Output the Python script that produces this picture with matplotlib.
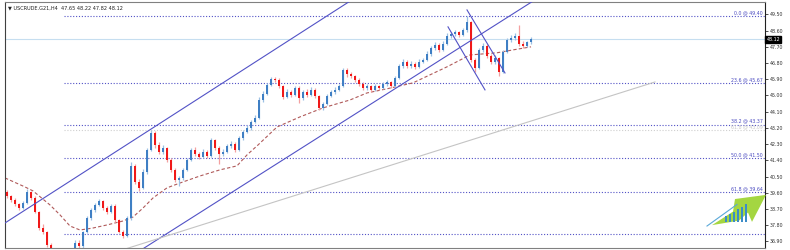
import matplotlib
matplotlib.use("Agg")
import matplotlib.pyplot as plt
import matplotlib.transforms as mtransforms
import numpy as np

# --- candle data (H4 USCRUDE) ---
closes = [39.42, 39.20, 38.98, 38.75, 39.03, 39.64, 39.31, 38.53, 37.64, 37.42,
          36.70, 36.14, 36.42, 35.98, 35.75, 35.98, 36.42, 36.81, 36.64, 37.42,
          38.20, 38.64, 38.92, 39.14, 38.75, 38.53, 38.87, 38.09, 37.42, 37.20,
          38.20, 41.09, 40.20, 39.87, 40.75, 41.98, 42.92, 42.25, 41.87, 42.09,
          41.42, 40.87, 40.31, 40.42, 40.87, 41.42, 41.98, 41.75, 41.59, 41.87,
          41.64, 42.53, 42.09, 41.75, 41.87, 42.20, 42.31, 41.98, 42.64, 42.98,
          43.20, 43.53, 43.75, 44.75, 45.09, 45.59, 45.92, 45.87, 45.53, 44.92,
          45.20, 45.03, 45.42, 44.87, 45.20, 45.03, 45.31, 44.98, 44.31, 44.53,
          44.98, 45.20, 45.31, 45.53, 46.42, 46.20, 46.09, 45.87, 45.64, 45.42,
          45.53, 45.31, 45.53, 45.42, 45.64, 45.75, 45.53, 45.98, 46.64, 46.87,
          46.64, 46.75, 46.59, 46.87, 46.98, 47.31, 47.64, 47.81, 47.53, 47.87,
          48.31, 48.42, 48.53, 48.37, 48.64, 49.09, 46.98, 46.53, 47.53, 47.75,
          47.20, 46.87, 47.09, 46.31, 47.42, 48.09, 48.20, 48.31, 47.87, 47.75,
          47.98, 48.12]
highs = [39.75, 39.50, 39.28, 39.05, 39.15, 39.80, 39.70, 39.40, 38.60, 37.85,
         37.50, 36.80, 36.55, 36.50, 36.10, 36.10, 36.50, 36.95, 36.95, 37.50,
         38.30, 38.75, 39.05, 39.25, 39.20, 38.85, 39.00, 38.95, 38.15, 37.55,
         38.30, 41.30, 41.20, 40.35, 40.90, 42.10, 43.10, 43.00, 42.40, 42.25,
         42.15, 41.50, 40.95, 40.55, 40.95, 41.55, 42.10, 42.15, 41.85, 42.00,
         41.95, 42.65, 42.60, 42.20, 42.00, 42.30, 42.45, 42.40, 42.75, 43.10,
         43.35, 43.65, 43.90, 44.90, 45.25, 45.70, 46.05, 46.05, 45.95, 45.60,
         45.35, 45.30, 45.55, 45.50, 45.30, 45.35, 45.45, 45.40, 45.05, 44.65,
         45.10, 45.30, 45.45, 45.65, 46.55, 46.50, 46.30, 46.15, 45.95, 45.75,
         45.65, 45.60, 45.65, 45.60, 45.75, 45.85, 45.80, 46.10, 46.75, 47.00,
         46.95, 46.90, 46.85, 47.00, 47.10, 47.45, 47.75, 47.95, 47.90, 48.00,
         48.45, 48.55, 48.65, 48.60, 48.75, 49.40, 49.15, 47.10, 47.65, 47.90,
         47.85, 47.30, 47.25, 47.15, 47.55, 48.20, 48.35, 48.45, 48.90, 48.00,
         48.05, 48.22]
lows = [39.30, 39.10, 38.88, 38.65, 38.70, 38.95, 39.20, 38.45, 37.55, 37.30,
        36.60, 36.00, 36.05, 35.90, 35.60, 35.65, 35.90, 36.35, 36.50, 36.55,
        37.35, 38.10, 38.55, 38.85, 38.65, 38.40, 38.45, 38.00, 37.35, 37.10,
        37.15, 38.10, 40.10, 39.70, 39.80, 40.65, 41.90, 42.10, 41.75, 41.75,
        41.30, 40.75, 40.20, 40.00, 40.30, 40.80, 41.35, 41.65, 41.45, 41.50,
        41.55, 41.60, 41.95, 41.20, 41.65, 41.80, 42.10, 41.85, 41.90, 42.55,
        42.90, 43.10, 43.45, 43.70, 44.65, 45.00, 45.50, 45.75, 45.40, 44.80,
        44.85, 44.90, 44.95, 44.60, 44.75, 44.90, 44.95, 44.85, 44.20, 44.20,
        44.45, 44.90, 45.10, 45.25, 45.45, 46.05, 45.95, 45.75, 45.55, 45.30,
        45.30, 45.20, 45.25, 45.30, 45.35, 45.55, 45.40, 45.45, 45.90, 46.55,
        46.50, 46.55, 46.45, 46.50, 46.80, 46.90, 47.20, 47.55, 47.40, 47.45,
        47.80, 48.20, 48.30, 48.25, 48.30, 48.55, 46.85, 46.30, 46.45, 47.40,
        47.10, 46.75, 46.75, 46.10, 46.25, 47.35, 47.95, 48.10, 47.75, 47.65,
        47.70, 47.85]
first_open = 39.64

# moving average, read at a few candle positions
ma_idx = [-0.5, 4.5, 6.5, 10.75, 13.25, 15.75, 18.25, 21.5, 25, 29, 31.5, 34,
          36.5, 40, 43.25, 48.25, 53.25, 57.5, 60, 62.75, 67.5, 73.25, 79,
          85.75, 90, 95, 101.5, 110, 115.75, 122.5, 126.5, 131]
ma_val = [40.42, 39.92, 39.70, 38.92, 38.37, 37.75, 37.53, 37.64, 37.81, 38.03,
          38.25, 38.75, 39.31, 39.87, 40.14, 40.53, 40.87, 41.09, 41.70, 42.25,
          43.25, 43.81, 44.31, 44.75, 45.14, 45.37, 45.70, 46.59, 47.25, 47.37,
          47.53, 47.70]

# fibonacci retracement levels
fib_names = ["0.0", "23.6", "38.2", "50.0", "61.8", "76.4"]
fib_prices = [49.40, 45.67, 43.37, 41.50, 39.64, 37.33]
fib_start = 14.25
grey_level = 43.09

# trend lines: (index, price) end points
channel_upper = [(-0.5, 37.92), (86.25, 50.31)]
channel_lower = [(30.75, 36.03), (132.0, 50.31)]
flag_a = [(110.25, 48.81), (119.5, 45.31)]
flag_b = [(115.0, 49.75), (124.5, 46.25)]
grey_line = [(29.5, 36.47), (162.0, 45.75)]

yticks = [36.90, 37.80, 38.70, 39.60, 40.50, 41.40, 42.30, 43.20, 44.10,
          45.00, 45.90, 46.80, 47.70, 48.60, 49.50]
last_price = 48.12
title = "\u25bc USCRUDE.G21,H4  47.65 48.22 47.82 48.12"

# watermark logo outline (index, price)
logo_arrow = [(176.25, 37.80), (181.5, 38.55), (182.0, 39.25), (189.75, 39.48),
              (186.25, 37.98), (185.25, 38.50), (183.0, 38.05)]
logo_bar_x = [179.75, 180.75, 181.75, 182.75, 183.75, 184.75]
logo_bar_top = [38.30, 38.42, 38.55, 38.68, 38.80, 38.95]

BULL = '#3f7fc4'
BEAR = '#f01818'
BULL_WICK = '#9cc0e4'
BEAR_WICK = '#f4a0a0'
LINE_BLUE = '#5252c6'

fig = plt.figure(figsize=(7.9, 2.5), dpi=100)
fig.patch.set_facecolor('white')
ax = fig.add_axes([5 / 790, 2 / 250, 760 / 790, 246 / 250])
ax.set_facecolor('white')
ax.set_xlim(-0.5, 189.5)
ax.set_ylim(36.53, 50.19)

# bid line
ax.axhline(last_price, color='#c6def0', lw=0.8, zorder=1)

# fib levels
for name, price in zip(fib_names, fib_prices):
    ax.hlines(price, fib_start, 189.5, color=LINE_BLUE, lw=0.8,
              linestyles=(0, (1, 1.6)), zorder=1)
    if name != "76.4":
        ax.text(189.0, price + 0.06, f"{name} @ {price:.2f}", ha='right', va='bottom',
                fontsize=3.4, color='#4a4ac0')
ax.hlines(grey_level, fib_start, 189.5, color='#cfcfcf', lw=0.8,
          linestyles=(0, (1, 1.6)), zorder=1)
ax.text(189.0, grey_level + 0.04, f"61.8 @ {grey_level:.2f}", ha='right', va='bottom',
        fontsize=3.4, color='#c8c8c8')

# moving average
ax.plot(ma_idx, ma_val, color='#b05a5a', lw=0.8, dashes=(3, 2), zorder=2)

# candles
opens = [first_open] + closes[:-1]
idx = np.arange(len(closes))
for i, o, h, l, c in zip(idx, opens, highs, lows, closes):
    up = c >= o
    ax.vlines(i, l, h, color=BULL_WICK if up else BEAR_WICK, lw=0.9, zorder=3)
    ax.bar(i, max(abs(c - o), 0.03), bottom=min(o, c), width=0.65,
           color=BULL if up else BEAR, linewidth=0, zorder=4)

# trend lines
for seg, col in [(channel_upper, LINE_BLUE), (channel_lower, LINE_BLUE),
                 (flag_a, LINE_BLUE), (flag_b, LINE_BLUE), (grey_line, '#c4c4c4')]:
    (x0, y0), (x1, y1) = seg
    ax.plot([x0, x1], [y0, y1], color=col, lw=0.8, zorder=5)

# axes styling
for side in ['top', 'bottom']:
    ax.spines[side].set_color('#808080')
    ax.spines[side].set_linewidth(0.8)
ax.spines['left'].set_color('#404040')
ax.spines['right'].set_color('#202020')
ax.set_xticks([])
ax.yaxis.tick_right()
ax.set_yticks(yticks)
ax.set_yticklabels([f"{t:.2f}" for t in yticks])
ax.tick_params(axis='y', labelsize=3.4, length=2, width=0.6, pad=1.5, colors='#333333')

# current price box
trans = mtransforms.blended_transform_factory(ax.transAxes, ax.transData)
ax.text(1.002, last_price, f"{last_price:.2f}", transform=trans, ha='left', va='center',
        fontsize=3.4, color='white',
        bbox=dict(boxstyle='square,pad=0.25', fc='black', ec='black'))

ax.text(0.004, 0.985, title, transform=ax.transAxes, ha='left', va='top',
        fontsize=3.6, color='#222222')

# watermark logo (bottom right)
ax.add_patch(plt.Polygon(logo_arrow, closed=True, fc='#9ad22c', ec='none',
                         alpha=0.9, zorder=6, clip_on=False))
ax.bar(logo_bar_x, [t - 37.98 for t in logo_bar_top], bottom=37.98, width=0.55,
       color='#3c8cc8', zorder=6)
ax.plot([175.0, 182.5], [37.75, 38.95], color='#5aa8d8', lw=0.8, zorder=6)

fig.savefig('out.png', dpi=100)
